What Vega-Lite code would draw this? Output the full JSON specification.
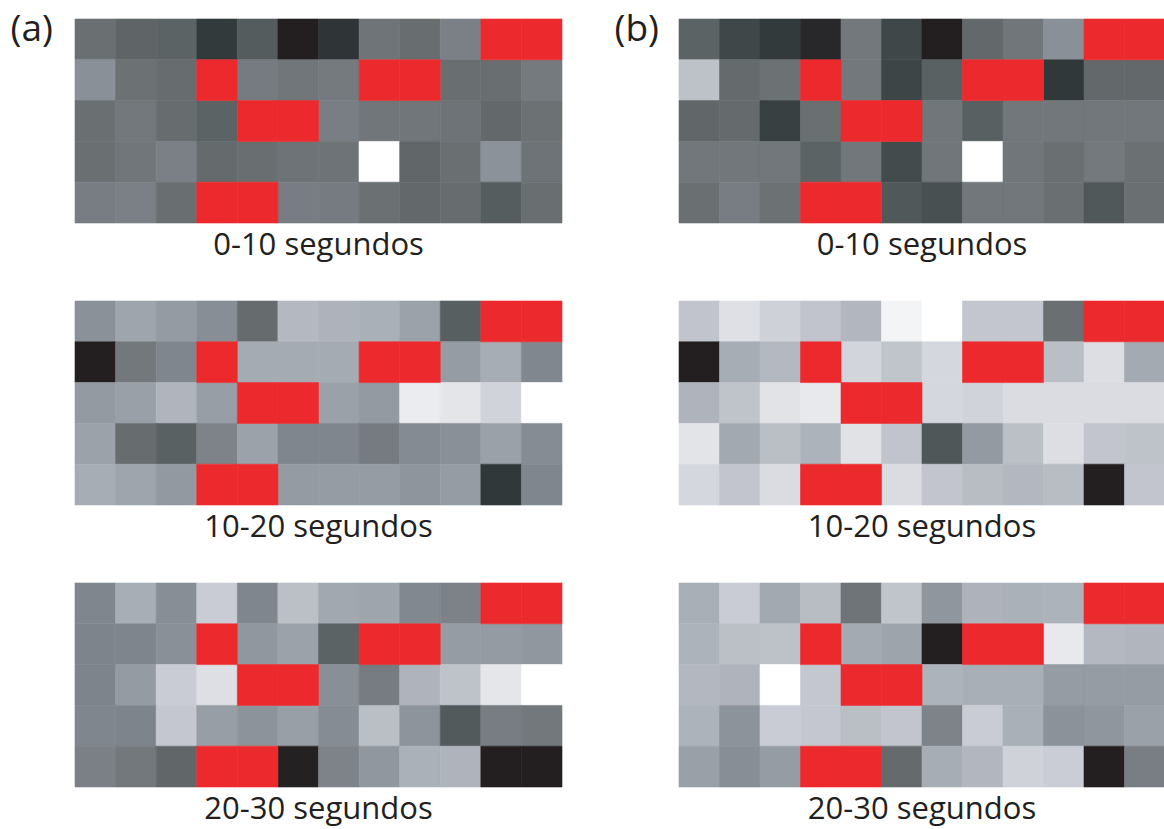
{
  "$schema": "https://vega.github.io/schema/vega-lite/v6.json",
  "padding": {"left": 10, "top": 10, "right": 0, "bottom": 10},
  "background": "#ffffff",
  "config": {
    "view": {"stroke": null},
    "font": "Open Sans",
    "title": {"font": "Open Sans", "fontSize": 31, "fontWeight": "normal", "color": "#231f20", "orient": "bottom", "baseline": "alphabetic", "offset": 8},
    "axis": {"labels": false, "ticks": false, "domain": false, "grid": false, "titleAngle": 0, "titleAlign": "left", "titleBaseline": "top", "titleX": -65, "titleY": -8, "titleFontSize": 37, "titleFont": "Open Sans", "titleFontWeight": "normal", "titleColor": "#231f20"},
    "rect": {"strokeWidth": 0.6}
  },
  "datasets": {
    "rojo": [
      {"fila": 0, "col": 10}, {"fila": 0, "col": 11},
      {"fila": 1, "col": 3}, {"fila": 1, "col": 7}, {"fila": 1, "col": 8},
      {"fila": 2, "col": 4}, {"fila": 2, "col": 5},
      {"fila": 4, "col": 3}, {"fila": 4, "col": 4}
    ],
    "celdas": [
      {"panel": "a1", "fila": 0, "col": 0, "gris": 111}, {"panel": "a1", "fila": 0, "col": 1, "gris": 100}, {"panel": "a1", "fila": 0, "col": 2, "gris": 97}, {"panel": "a1", "fila": 0, "col": 3, "gris": 56}, {"panel": "a1", "fila": 0, "col": 4, "gris": 90}, {"panel": "a1", "fila": 0, "col": 5, "gris": 33}, {"panel": "a1", "fila": 0, "col": 6, "gris": 52}, {"panel": "a1", "fila": 0, "col": 7, "gris": 115}, {"panel": "a1", "fila": 0, "col": 8, "gris": 109}, {"panel": "a1", "fila": 0, "col": 9, "gris": 128},
      {"panel": "a1", "fila": 1, "col": 0, "gris": 144}, {"panel": "a1", "fila": 1, "col": 1, "gris": 113}, {"panel": "a1", "fila": 1, "col": 2, "gris": 108}, {"panel": "a1", "fila": 1, "col": 4, "gris": 123}, {"panel": "a1", "fila": 1, "col": 5, "gris": 117}, {"panel": "a1", "fila": 1, "col": 6, "gris": 121}, {"panel": "a1", "fila": 1, "col": 9, "gris": 110}, {"panel": "a1", "fila": 1, "col": 10, "gris": 110}, {"panel": "a1", "fila": 1, "col": 11, "gris": 121},
      {"panel": "a1", "fila": 2, "col": 0, "gris": 111}, {"panel": "a1", "fila": 2, "col": 1, "gris": 119}, {"panel": "a1", "fila": 2, "col": 2, "gris": 108}, {"panel": "a1", "fila": 2, "col": 3, "gris": 97}, {"panel": "a1", "fila": 2, "col": 6, "gris": 126}, {"panel": "a1", "fila": 2, "col": 7, "gris": 117}, {"panel": "a1", "fila": 2, "col": 8, "gris": 117}, {"panel": "a1", "fila": 2, "col": 9, "gris": 114}, {"panel": "a1", "fila": 2, "col": 10, "gris": 104}, {"panel": "a1", "fila": 2, "col": 11, "gris": 113},
      {"panel": "a1", "fila": 3, "col": 0, "gris": 111}, {"panel": "a1", "fila": 3, "col": 1, "gris": 117}, {"panel": "a1", "fila": 3, "col": 2, "gris": 128}, {"panel": "a1", "fila": 3, "col": 3, "gris": 106}, {"panel": "a1", "fila": 3, "col": 4, "gris": 110}, {"panel": "a1", "fila": 3, "col": 5, "gris": 114}, {"panel": "a1", "fila": 3, "col": 6, "gris": 114}, {"panel": "a1", "fila": 3, "col": 7, "gris": 255}, {"panel": "a1", "fila": 3, "col": 8, "gris": 102}, {"panel": "a1", "fila": 3, "col": 9, "gris": 111}, {"panel": "a1", "fila": 3, "col": 10, "gris": 146}, {"panel": "a1", "fila": 3, "col": 11, "gris": 114},
      {"panel": "a1", "fila": 4, "col": 0, "gris": 125}, {"panel": "a1", "fila": 4, "col": 1, "gris": 128}, {"panel": "a1", "fila": 4, "col": 2, "gris": 110}, {"panel": "a1", "fila": 4, "col": 5, "gris": 125}, {"panel": "a1", "fila": 4, "col": 6, "gris": 123}, {"panel": "a1", "fila": 4, "col": 7, "gris": 112}, {"panel": "a1", "fila": 4, "col": 8, "gris": 104}, {"panel": "a1", "fila": 4, "col": 9, "gris": 108}, {"panel": "a1", "fila": 4, "col": 10, "gris": 91}, {"panel": "a1", "fila": 4, "col": 11, "gris": 110},

      {"panel": "b1", "fila": 0, "col": 0, "gris": 97}, {"panel": "b1", "fila": 0, "col": 1, "gris": 69}, {"panel": "b1", "fila": 0, "col": 2, "gris": 56}, {"panel": "b1", "fila": 0, "col": 3, "gris": 40}, {"panel": "b1", "fila": 0, "col": 4, "gris": 119}, {"panel": "b1", "fila": 0, "col": 5, "gris": 69}, {"panel": "b1", "fila": 0, "col": 6, "gris": 33}, {"panel": "b1", "fila": 0, "col": 7, "gris": 104}, {"panel": "b1", "fila": 0, "col": 8, "gris": 117}, {"panel": "b1", "fila": 0, "col": 9, "gris": 144},
      {"panel": "b1", "fila": 1, "col": 0, "gris": 194}, {"panel": "b1", "fila": 1, "col": 1, "gris": 106}, {"panel": "b1", "fila": 1, "col": 2, "gris": 113}, {"panel": "b1", "fila": 1, "col": 4, "gris": 119}, {"panel": "b1", "fila": 1, "col": 5, "gris": 67}, {"panel": "b1", "fila": 1, "col": 6, "gris": 95}, {"panel": "b1", "fila": 1, "col": 9, "gris": 54}, {"panel": "b1", "fila": 1, "col": 10, "gris": 104}, {"panel": "b1", "fila": 1, "col": 11, "gris": 104},
      {"panel": "b1", "fila": 2, "col": 0, "gris": 102}, {"panel": "b1", "fila": 2, "col": 1, "gris": 106}, {"panel": "b1", "fila": 2, "col": 2, "gris": 62}, {"panel": "b1", "fila": 2, "col": 3, "gris": 111}, {"panel": "b1", "fila": 2, "col": 6, "gris": 117}, {"panel": "b1", "fila": 2, "col": 7, "gris": 94}, {"panel": "b1", "fila": 2, "col": 8, "gris": 118}, {"panel": "b1", "fila": 2, "col": 9, "gris": 118}, {"panel": "b1", "fila": 2, "col": 10, "gris": 118}, {"panel": "b1", "fila": 2, "col": 11, "gris": 118},
      {"panel": "b1", "fila": 3, "col": 0, "gris": 118}, {"panel": "b1", "fila": 3, "col": 1, "gris": 118}, {"panel": "b1", "fila": 3, "col": 2, "gris": 118}, {"panel": "b1", "fila": 3, "col": 3, "gris": 97}, {"panel": "b1", "fila": 3, "col": 4, "gris": 118}, {"panel": "b1", "fila": 3, "col": 5, "gris": 73}, {"panel": "b1", "fila": 3, "col": 6, "gris": 117}, {"panel": "b1", "fila": 3, "col": 7, "gris": 255}, {"panel": "b1", "fila": 3, "col": 8, "gris": 117}, {"panel": "b1", "fila": 3, "col": 9, "gris": 111}, {"panel": "b1", "fila": 3, "col": 10, "gris": 120}, {"panel": "b1", "fila": 3, "col": 11, "gris": 112},
      {"panel": "b1", "fila": 4, "col": 0, "gris": 111}, {"panel": "b1", "fila": 4, "col": 1, "gris": 125}, {"panel": "b1", "fila": 4, "col": 2, "gris": 113}, {"panel": "b1", "fila": 4, "col": 5, "gris": 86}, {"panel": "b1", "fila": 4, "col": 6, "gris": 78}, {"panel": "b1", "fila": 4, "col": 7, "gris": 118}, {"panel": "b1", "fila": 4, "col": 8, "gris": 118}, {"panel": "b1", "fila": 4, "col": 9, "gris": 111}, {"panel": "b1", "fila": 4, "col": 10, "gris": 86}, {"panel": "b1", "fila": 4, "col": 11, "gris": 111},

      {"panel": "a2", "fila": 0, "col": 0, "gris": 145}, {"panel": "a2", "fila": 0, "col": 1, "gris": 165}, {"panel": "a2", "fila": 0, "col": 2, "gris": 155}, {"panel": "a2", "fila": 0, "col": 3, "gris": 142}, {"panel": "a2", "fila": 0, "col": 4, "gris": 107}, {"panel": "a2", "fila": 0, "col": 5, "gris": 186}, {"panel": "a2", "fila": 0, "col": 6, "gris": 180}, {"panel": "a2", "fila": 0, "col": 7, "gris": 176}, {"panel": "a2", "fila": 0, "col": 8, "gris": 162}, {"panel": "a2", "fila": 0, "col": 9, "gris": 93},
      {"panel": "a2", "fila": 1, "col": 0, "gris": 33}, {"panel": "a2", "fila": 1, "col": 1, "gris": 119}, {"panel": "a2", "fila": 1, "col": 2, "gris": 134}, {"panel": "a2", "fila": 1, "col": 4, "gris": 171}, {"panel": "a2", "fila": 1, "col": 5, "gris": 171}, {"panel": "a2", "fila": 1, "col": 6, "gris": 171}, {"panel": "a2", "fila": 1, "col": 9, "gris": 156}, {"panel": "a2", "fila": 1, "col": 10, "gris": 173}, {"panel": "a2", "fila": 1, "col": 11, "gris": 135},
      {"panel": "a2", "fila": 2, "col": 0, "gris": 154}, {"panel": "a2", "fila": 2, "col": 1, "gris": 160}, {"panel": "a2", "fila": 2, "col": 2, "gris": 182}, {"panel": "a2", "fila": 2, "col": 3, "gris": 158}, {"panel": "a2", "fila": 2, "col": 6, "gris": 161}, {"panel": "a2", "fila": 2, "col": 7, "gris": 154}, {"panel": "a2", "fila": 2, "col": 8, "gris": 237}, {"panel": "a2", "fila": 2, "col": 9, "gris": 230}, {"panel": "a2", "fila": 2, "col": 10, "gris": 213}, {"panel": "a2", "fila": 2, "col": 11, "gris": 255},
      {"panel": "a2", "fila": 3, "col": 0, "gris": 162}, {"panel": "a2", "fila": 3, "col": 1, "gris": 108}, {"panel": "a2", "fila": 3, "col": 2, "gris": 95}, {"panel": "a2", "fila": 3, "col": 3, "gris": 131}, {"panel": "a2", "fila": 3, "col": 4, "gris": 162}, {"panel": "a2", "fila": 3, "col": 5, "gris": 134}, {"panel": "a2", "fila": 3, "col": 6, "gris": 134}, {"panel": "a2", "fila": 3, "col": 7, "gris": 123}, {"panel": "a2", "fila": 3, "col": 8, "gris": 139}, {"panel": "a2", "fila": 3, "col": 9, "gris": 144}, {"panel": "a2", "fila": 3, "col": 10, "gris": 161}, {"panel": "a2", "fila": 3, "col": 11, "gris": 140},
      {"panel": "a2", "fila": 4, "col": 0, "gris": 173}, {"panel": "a2", "fila": 4, "col": 1, "gris": 165}, {"panel": "a2", "fila": 4, "col": 2, "gris": 153}, {"panel": "a2", "fila": 4, "col": 5, "gris": 155}, {"panel": "a2", "fila": 4, "col": 6, "gris": 156}, {"panel": "a2", "fila": 4, "col": 7, "gris": 156}, {"panel": "a2", "fila": 4, "col": 8, "gris": 149}, {"panel": "a2", "fila": 4, "col": 9, "gris": 156}, {"panel": "a2", "fila": 4, "col": 10, "gris": 54}, {"panel": "a2", "fila": 4, "col": 11, "gris": 134},

      {"panel": "b2", "fila": 0, "col": 0, "gris": 198}, {"panel": "b2", "fila": 0, "col": 1, "gris": 225}, {"panel": "b2", "fila": 0, "col": 2, "gris": 211}, {"panel": "b2", "fila": 0, "col": 3, "gris": 198}, {"panel": "b2", "fila": 0, "col": 4, "gris": 184}, {"panel": "b2", "fila": 0, "col": 5, "gris": 244}, {"panel": "b2", "fila": 0, "col": 6, "gris": 255}, {"panel": "b2", "fila": 0, "col": 7, "gris": 200}, {"panel": "b2", "fila": 0, "col": 8, "gris": 200}, {"panel": "b2", "fila": 0, "col": 9, "gris": 111},
      {"panel": "b2", "fila": 1, "col": 0, "gris": 33}, {"panel": "b2", "fila": 1, "col": 1, "gris": 173}, {"panel": "b2", "fila": 1, "col": 2, "gris": 186}, {"panel": "b2", "fila": 1, "col": 4, "gris": 214}, {"panel": "b2", "fila": 1, "col": 5, "gris": 197}, {"panel": "b2", "fila": 1, "col": 6, "gris": 216}, {"panel": "b2", "fila": 1, "col": 9, "gris": 191}, {"panel": "b2", "fila": 1, "col": 10, "gris": 223}, {"panel": "b2", "fila": 1, "col": 11, "gris": 170},
      {"panel": "b2", "fila": 2, "col": 0, "gris": 181}, {"panel": "b2", "fila": 2, "col": 1, "gris": 196}, {"panel": "b2", "fila": 2, "col": 2, "gris": 228}, {"panel": "b2", "fila": 2, "col": 3, "gris": 234}, {"panel": "b2", "fila": 2, "col": 6, "gris": 216}, {"panel": "b2", "fila": 2, "col": 7, "gris": 213}, {"panel": "b2", "fila": 2, "col": 8, "gris": 221}, {"panel": "b2", "fila": 2, "col": 9, "gris": 221}, {"panel": "b2", "fila": 2, "col": 10, "gris": 221}, {"panel": "b2", "fila": 2, "col": 11, "gris": 221},
      {"panel": "b2", "fila": 3, "col": 0, "gris": 229}, {"panel": "b2", "fila": 3, "col": 1, "gris": 169}, {"panel": "b2", "fila": 3, "col": 2, "gris": 191}, {"panel": "b2", "fila": 3, "col": 3, "gris": 179}, {"panel": "b2", "fila": 3, "col": 4, "gris": 227}, {"panel": "b2", "fila": 3, "col": 5, "gris": 198}, {"panel": "b2", "fila": 3, "col": 6, "gris": 85}, {"panel": "b2", "fila": 3, "col": 7, "gris": 154}, {"panel": "b2", "fila": 3, "col": 8, "gris": 192}, {"panel": "b2", "fila": 3, "col": 9, "gris": 223}, {"panel": "b2", "fila": 3, "col": 10, "gris": 199}, {"panel": "b2", "fila": 3, "col": 11, "gris": 195},
      {"panel": "b2", "fila": 4, "col": 0, "gris": 216}, {"panel": "b2", "fila": 4, "col": 1, "gris": 199}, {"panel": "b2", "fila": 4, "col": 2, "gris": 221}, {"panel": "b2", "fila": 4, "col": 5, "gris": 221}, {"panel": "b2", "fila": 4, "col": 6, "gris": 199}, {"panel": "b2", "fila": 4, "col": 7, "gris": 189}, {"panel": "b2", "fila": 4, "col": 8, "gris": 185}, {"panel": "b2", "fila": 4, "col": 9, "gris": 189}, {"panel": "b2", "fila": 4, "col": 10, "gris": 32}, {"panel": "b2", "fila": 4, "col": 11, "gris": 199},

      {"panel": "a3", "fila": 0, "col": 0, "gris": 134}, {"panel": "a3", "fila": 0, "col": 1, "gris": 174}, {"panel": "a3", "fila": 0, "col": 2, "gris": 142}, {"panel": "a3", "fila": 0, "col": 3, "gris": 206}, {"panel": "a3", "fila": 0, "col": 4, "gris": 134}, {"panel": "a3", "fila": 0, "col": 5, "gris": 192}, {"panel": "a3", "fila": 0, "col": 6, "gris": 168}, {"panel": "a3", "fila": 0, "col": 7, "gris": 165}, {"panel": "a3", "fila": 0, "col": 8, "gris": 136}, {"panel": "a3", "fila": 0, "col": 9, "gris": 130},
      {"panel": "a3", "fila": 1, "col": 0, "gris": 132}, {"panel": "a3", "fila": 1, "col": 1, "gris": 133}, {"panel": "a3", "fila": 1, "col": 2, "gris": 144}, {"panel": "a3", "fila": 1, "col": 4, "gris": 151}, {"panel": "a3", "fila": 1, "col": 5, "gris": 162}, {"panel": "a3", "fila": 1, "col": 6, "gris": 97}, {"panel": "a3", "fila": 1, "col": 9, "gris": 156}, {"panel": "a3", "fila": 1, "col": 10, "gris": 155}, {"panel": "a3", "fila": 1, "col": 11, "gris": 151},
      {"panel": "a3", "fila": 2, "col": 0, "gris": 132}, {"panel": "a3", "fila": 2, "col": 1, "gris": 155}, {"panel": "a3", "fila": 2, "col": 2, "gris": 206}, {"panel": "a3", "fila": 2, "col": 3, "gris": 224}, {"panel": "a3", "fila": 2, "col": 6, "gris": 143}, {"panel": "a3", "fila": 2, "col": 7, "gris": 124}, {"panel": "a3", "fila": 2, "col": 8, "gris": 181}, {"panel": "a3", "fila": 2, "col": 9, "gris": 195}, {"panel": "a3", "fila": 2, "col": 10, "gris": 231}, {"panel": "a3", "fila": 2, "col": 11, "gris": 255},
      {"panel": "a3", "fila": 3, "col": 0, "gris": 134}, {"panel": "a3", "fila": 3, "col": 1, "gris": 132}, {"panel": "a3", "fila": 3, "col": 2, "gris": 201}, {"panel": "a3", "fila": 3, "col": 3, "gris": 158}, {"panel": "a3", "fila": 3, "col": 4, "gris": 147}, {"panel": "a3", "fila": 3, "col": 5, "gris": 159}, {"panel": "a3", "fila": 3, "col": 6, "gris": 140}, {"panel": "a3", "fila": 3, "col": 7, "gris": 191}, {"panel": "a3", "fila": 3, "col": 8, "gris": 148}, {"panel": "a3", "fila": 3, "col": 9, "gris": 88}, {"panel": "a3", "fila": 3, "col": 10, "gris": 125}, {"panel": "a3", "fila": 3, "col": 11, "gris": 119},
      {"panel": "a3", "fila": 4, "col": 0, "gris": 128}, {"panel": "a3", "fila": 4, "col": 1, "gris": 119}, {"panel": "a3", "fila": 4, "col": 2, "gris": 102}, {"panel": "a3", "fila": 4, "col": 5, "gris": 35}, {"panel": "a3", "fila": 4, "col": 6, "gris": 131}, {"panel": "a3", "fila": 4, "col": 7, "gris": 151}, {"panel": "a3", "fila": 4, "col": 8, "gris": 177}, {"panel": "a3", "fila": 4, "col": 9, "gris": 181}, {"panel": "a3", "fila": 4, "col": 10, "gris": 33}, {"panel": "a3", "fila": 4, "col": 11, "gris": 31},

      {"panel": "b3", "fila": 0, "col": 0, "gris": 175}, {"panel": "b3", "fila": 0, "col": 1, "gris": 206}, {"panel": "b3", "fila": 0, "col": 2, "gris": 169}, {"panel": "b3", "fila": 0, "col": 3, "gris": 189}, {"panel": "b3", "fila": 0, "col": 4, "gris": 115}, {"panel": "b3", "fila": 0, "col": 5, "gris": 197}, {"panel": "b3", "fila": 0, "col": 6, "gris": 150}, {"panel": "b3", "fila": 0, "col": 7, "gris": 180}, {"panel": "b3", "fila": 0, "col": 8, "gris": 177}, {"panel": "b3", "fila": 0, "col": 9, "gris": 179},
      {"panel": "b3", "fila": 1, "col": 0, "gris": 179}, {"panel": "b3", "fila": 1, "col": 1, "gris": 192}, {"panel": "b3", "fila": 1, "col": 2, "gris": 194}, {"panel": "b3", "fila": 1, "col": 4, "gris": 170}, {"panel": "b3", "fila": 1, "col": 5, "gris": 164}, {"panel": "b3", "fila": 1, "col": 6, "gris": 33}, {"panel": "b3", "fila": 1, "col": 9, "gris": 234}, {"panel": "b3", "fila": 1, "col": 10, "gris": 186}, {"panel": "b3", "fila": 1, "col": 11, "gris": 183},
      {"panel": "b3", "fila": 2, "col": 0, "gris": 185}, {"panel": "b3", "fila": 2, "col": 1, "gris": 181}, {"panel": "b3", "fila": 2, "col": 2, "gris": 255}, {"panel": "b3", "fila": 2, "col": 3, "gris": 201}, {"panel": "b3", "fila": 2, "col": 6, "gris": 179}, {"panel": "b3", "fila": 2, "col": 7, "gris": 175}, {"panel": "b3", "fila": 2, "col": 8, "gris": 175}, {"panel": "b3", "fila": 2, "col": 9, "gris": 156}, {"panel": "b3", "fila": 2, "col": 10, "gris": 156}, {"panel": "b3", "fila": 2, "col": 11, "gris": 156},
      {"panel": "b3", "fila": 3, "col": 0, "gris": 179}, {"panel": "b3", "fila": 3, "col": 1, "gris": 147}, {"panel": "b3", "fila": 3, "col": 2, "gris": 206}, {"panel": "b3", "fila": 3, "col": 3, "gris": 201}, {"panel": "b3", "fila": 3, "col": 4, "gris": 191}, {"panel": "b3", "fila": 3, "col": 5, "gris": 199}, {"panel": "b3", "fila": 3, "col": 6, "gris": 131}, {"panel": "b3", "fila": 3, "col": 7, "gris": 206}, {"panel": "b3", "fila": 3, "col": 8, "gris": 176}, {"panel": "b3", "fila": 3, "col": 9, "gris": 146}, {"panel": "b3", "fila": 3, "col": 10, "gris": 150}, {"panel": "b3", "fila": 3, "col": 11, "gris": 161},
      {"panel": "b3", "fila": 4, "col": 0, "gris": 160}, {"panel": "b3", "fila": 4, "col": 1, "gris": 142}, {"panel": "b3", "fila": 4, "col": 2, "gris": 156}, {"panel": "b3", "fila": 4, "col": 5, "gris": 106}, {"panel": "b3", "fila": 4, "col": 6, "gris": 173}, {"panel": "b3", "fila": 4, "col": 7, "gris": 184}, {"panel": "b3", "fila": 4, "col": 8, "gris": 212}, {"panel": "b3", "fila": 4, "col": 9, "gris": 207}, {"panel": "b3", "fila": 4, "col": 10, "gris": 33}, {"panel": "b3", "fila": 4, "col": 11, "gris": 126}
    ]
  },
  "spacing": 51,
  "hconcat": [
    {
      "bounds": "flush",
      "spacing": 78,
      "vconcat": [
        {
          "width": 487, "height": 204, "title": "0-10 segundos",
          "encoding": {
            "x": {"field": "col", "type": "ordinal", "scale": {"domain": [0,1,2,3,4,5,6,7,8,9,10,11], "paddingInner": 0, "paddingOuter": 0}, "axis": null},
            "y": {"field": "fila", "type": "ordinal", "scale": {"domain": [0,1,2,3,4], "paddingInner": 0, "paddingOuter": 0}, "axis": {"title": "(a)"}}
          },
          "layer": [
            {"data": {"name": "celdas"}, "transform": [{"filter": "datum.panel === 'a1'"}], "mark": {"type": "rect"},
             "encoding": {
               "fill": {"field": "gris", "type": "quantitative", "legend": null, "scale": {"domain": [33,56,86,111,134,171,206,221,255], "range": ["#231f20","#323a3c","#50585a","#6a7072","#80868d","#a5abb2","#c9ccd4","#dadce1","#ffffff"], "interpolate": "rgb", "clamp": true}},
               "stroke": {"field": "gris", "type": "quantitative", "legend": null, "scale": {"domain": [33,56,86,111,134,171,206,221,255], "range": ["#231f20","#323a3c","#50585a","#6a7072","#80868d","#a5abb2","#c9ccd4","#dadce1","#ffffff"], "interpolate": "rgb", "clamp": true}}}},
            {"data": {"name": "rojo"}, "mark": {"type": "rect", "fill": "#ec2a2d", "stroke": "#ec2a2d"}}
          ]
        },
        {
          "width": 487, "height": 204, "title": "10-20 segundos",
          "encoding": {
            "x": {"field": "col", "type": "ordinal", "scale": {"domain": [0,1,2,3,4,5,6,7,8,9,10,11], "paddingInner": 0, "paddingOuter": 0}, "axis": null},
            "y": {"field": "fila", "type": "ordinal", "scale": {"domain": [0,1,2,3,4], "paddingInner": 0, "paddingOuter": 0}, "axis": null}
          },
          "layer": [
            {"data": {"name": "celdas"}, "transform": [{"filter": "datum.panel === 'a2'"}], "mark": {"type": "rect"},
             "encoding": {
               "fill": {"field": "gris", "type": "quantitative", "legend": null, "scale": {"domain": [33,56,86,111,134,171,206,221,255], "range": ["#231f20","#323a3c","#50585a","#6a7072","#80868d","#a5abb2","#c9ccd4","#dadce1","#ffffff"], "interpolate": "rgb", "clamp": true}},
               "stroke": {"field": "gris", "type": "quantitative", "legend": null, "scale": {"domain": [33,56,86,111,134,171,206,221,255], "range": ["#231f20","#323a3c","#50585a","#6a7072","#80868d","#a5abb2","#c9ccd4","#dadce1","#ffffff"], "interpolate": "rgb", "clamp": true}}}},
            {"data": {"name": "rojo"}, "mark": {"type": "rect", "fill": "#ec2a2d", "stroke": "#ec2a2d"}}
          ]
        },
        {
          "width": 487, "height": 204, "title": "20-30 segundos",
          "encoding": {
            "x": {"field": "col", "type": "ordinal", "scale": {"domain": [0,1,2,3,4,5,6,7,8,9,10,11], "paddingInner": 0, "paddingOuter": 0}, "axis": null},
            "y": {"field": "fila", "type": "ordinal", "scale": {"domain": [0,1,2,3,4], "paddingInner": 0, "paddingOuter": 0}, "axis": null}
          },
          "layer": [
            {"data": {"name": "celdas"}, "transform": [{"filter": "datum.panel === 'a3'"}], "mark": {"type": "rect"},
             "encoding": {
               "fill": {"field": "gris", "type": "quantitative", "legend": null, "scale": {"domain": [33,56,86,111,134,171,206,221,255], "range": ["#231f20","#323a3c","#50585a","#6a7072","#80868d","#a5abb2","#c9ccd4","#dadce1","#ffffff"], "interpolate": "rgb", "clamp": true}},
               "stroke": {"field": "gris", "type": "quantitative", "legend": null, "scale": {"domain": [33,56,86,111,134,171,206,221,255], "range": ["#231f20","#323a3c","#50585a","#6a7072","#80868d","#a5abb2","#c9ccd4","#dadce1","#ffffff"], "interpolate": "rgb", "clamp": true}}}},
            {"data": {"name": "rojo"}, "mark": {"type": "rect", "fill": "#ec2a2d", "stroke": "#ec2a2d"}}
          ]
        }
      ]
    },
    {
      "bounds": "flush",
      "spacing": 78,
      "vconcat": [
        {
          "width": 486, "height": 204, "title": "0-10 segundos",
          "encoding": {
            "x": {"field": "col", "type": "ordinal", "scale": {"domain": [0,1,2,3,4,5,6,7,8,9,10,11], "paddingInner": 0, "paddingOuter": 0}, "axis": null},
            "y": {"field": "fila", "type": "ordinal", "scale": {"domain": [0,1,2,3,4], "paddingInner": 0, "paddingOuter": 0}, "axis": {"title": "(b)"}}
          },
          "layer": [
            {"data": {"name": "celdas"}, "transform": [{"filter": "datum.panel === 'b1'"}], "mark": {"type": "rect"},
             "encoding": {
               "fill": {"field": "gris", "type": "quantitative", "legend": null, "scale": {"domain": [33,56,86,111,134,171,206,221,255], "range": ["#231f20","#323a3c","#50585a","#6a7072","#80868d","#a5abb2","#c9ccd4","#dadce1","#ffffff"], "interpolate": "rgb", "clamp": true}},
               "stroke": {"field": "gris", "type": "quantitative", "legend": null, "scale": {"domain": [33,56,86,111,134,171,206,221,255], "range": ["#231f20","#323a3c","#50585a","#6a7072","#80868d","#a5abb2","#c9ccd4","#dadce1","#ffffff"], "interpolate": "rgb", "clamp": true}}}},
            {"data": {"name": "rojo"}, "mark": {"type": "rect", "fill": "#ec2a2d", "stroke": "#ec2a2d"}}
          ]
        },
        {
          "width": 486, "height": 204, "title": "10-20 segundos",
          "encoding": {
            "x": {"field": "col", "type": "ordinal", "scale": {"domain": [0,1,2,3,4,5,6,7,8,9,10,11], "paddingInner": 0, "paddingOuter": 0}, "axis": null},
            "y": {"field": "fila", "type": "ordinal", "scale": {"domain": [0,1,2,3,4], "paddingInner": 0, "paddingOuter": 0}, "axis": null}
          },
          "layer": [
            {"data": {"name": "celdas"}, "transform": [{"filter": "datum.panel === 'b2'"}], "mark": {"type": "rect"},
             "encoding": {
               "fill": {"field": "gris", "type": "quantitative", "legend": null, "scale": {"domain": [33,56,86,111,134,171,206,221,255], "range": ["#231f20","#323a3c","#50585a","#6a7072","#80868d","#a5abb2","#c9ccd4","#dadce1","#ffffff"], "interpolate": "rgb", "clamp": true}},
               "stroke": {"field": "gris", "type": "quantitative", "legend": null, "scale": {"domain": [33,56,86,111,134,171,206,221,255], "range": ["#231f20","#323a3c","#50585a","#6a7072","#80868d","#a5abb2","#c9ccd4","#dadce1","#ffffff"], "interpolate": "rgb", "clamp": true}}}},
            {"data": {"name": "rojo"}, "mark": {"type": "rect", "fill": "#ec2a2d", "stroke": "#ec2a2d"}}
          ]
        },
        {
          "width": 486, "height": 204, "title": "20-30 segundos",
          "encoding": {
            "x": {"field": "col", "type": "ordinal", "scale": {"domain": [0,1,2,3,4,5,6,7,8,9,10,11], "paddingInner": 0, "paddingOuter": 0}, "axis": null},
            "y": {"field": "fila", "type": "ordinal", "scale": {"domain": [0,1,2,3,4], "paddingInner": 0, "paddingOuter": 0}, "axis": null}
          },
          "layer": [
            {"data": {"name": "celdas"}, "transform": [{"filter": "datum.panel === 'b3'"}], "mark": {"type": "rect"},
             "encoding": {
               "fill": {"field": "gris", "type": "quantitative", "legend": null, "scale": {"domain": [33,56,86,111,134,171,206,221,255], "range": ["#231f20","#323a3c","#50585a","#6a7072","#80868d","#a5abb2","#c9ccd4","#dadce1","#ffffff"], "interpolate": "rgb", "clamp": true}},
               "stroke": {"field": "gris", "type": "quantitative", "legend": null, "scale": {"domain": [33,56,86,111,134,171,206,221,255], "range": ["#231f20","#323a3c","#50585a","#6a7072","#80868d","#a5abb2","#c9ccd4","#dadce1","#ffffff"], "interpolate": "rgb", "clamp": true}}}},
            {"data": {"name": "rojo"}, "mark": {"type": "rect", "fill": "#ec2a2d", "stroke": "#ec2a2d"}}
          ]
        }
      ]
    }
  ]
}
